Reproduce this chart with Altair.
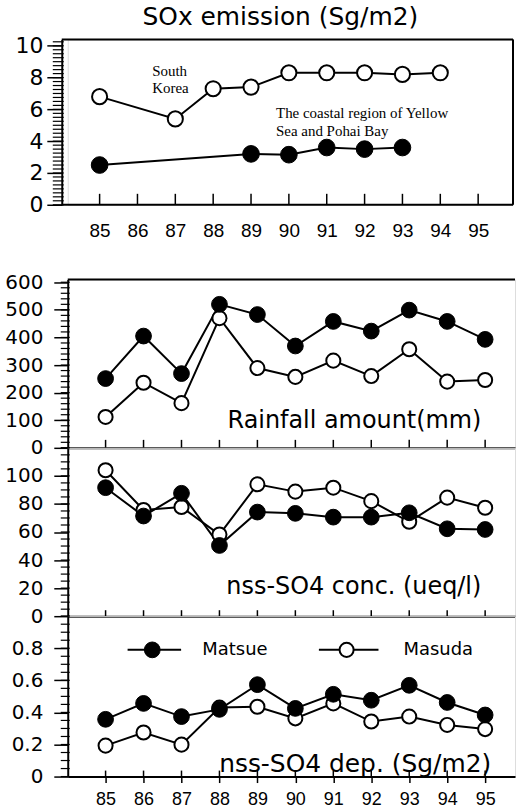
import altair as alt
import pandas as pd

# ---------------- data ----------------
years = [85, 86, 87, 88, 89, 90, 91, 92, 93, 94, 95]

# SOx emission (S g/m2)
korea_years = [85, 87, 88, 89, 90, 91, 92, 93, 94]
korea_sox = [6.8, 5.4, 7.3, 7.4, 8.3, 8.3, 8.3, 8.2, 8.3]
coast_years = [85, 89, 90, 91, 92, 93]
coast_sox = [2.5, 3.2, 3.15, 3.6, 3.5, 3.6]

# Matsue (filled) / Masuda (open)
rain_matsue = [251, 405, 269, 520, 483, 369, 458, 423, 499, 458, 393]
rain_masuda = [112, 236, 162, 470, 289, 257, 316, 260, 357, 240, 246]
conc_matsue = [91.6, 71.4, 87.6, 50.4, 74.2, 73.3, 70.6, 70.6, 73.7, 62.3, 61.8]
conc_masuda = [104, 75.7, 77.8, 58.2, 94, 88.8, 91.6, 82, 67.3, 84.5, 77.3]
dep_matsue = [0.357, 0.456, 0.374, 0.419, 0.573, 0.425, 0.513, 0.476, 0.569, 0.462, 0.384]
dep_masuda = [0.193, 0.275, 0.199, 0.43, 0.435, 0.363, 0.456, 0.343, 0.374, 0.322, 0.296]

stations = ["Matsue", "Masuda"]
korea_label = ["South", "Korea"]
coast_label = ["The coastal region of Yellow", "Sea and Pohai Bay"]
title_text = "SOx emission (Sg/m2)"
panel_labels = ["Rainfall amount(mm)", "nss-SO4 conc. (ueq/l)", "nss-SO4 dep. (Sg/m2)"]

# axis tick positions: labelled majors and unlabelled minor ticks
sox_major = [0, 2, 4, 6, 8, 10]
sox_minor = [i * 0.25 for i in range(0, 42)]
rain_major = [0, 100, 200, 300, 400, 500, 600]
rain_minor = [i * 20 for i in range(0, 31)]
conc_major = [0, 20, 40, 60, 80, 100]
conc_minor = [i * 5 for i in range(0, 25)]
dep_major = [0, 0.2, 0.4, 0.6, 0.8]
dep_minor = [round(i * 0.05, 2) for i in range(0, 21)]

# ---------------- styling ----------------
FONT = "DejaVu Sans"
XFONT = "Liberation Sans"
SERIF = "Liberation Serif"
W_TOP, H_TOP = 447, 166
W_BOT = 449
H_RAIN, H_CONC, H_DEP = 169, 169, 161

dummy = pd.DataFrame({"k": [0]})
year_df = pd.DataFrame({"year": years})


def yaxis(values, size, tmaj, pad, offset=0):
    return alt.Axis(
        values=values, title=None, offset=offset, grid=False,
        labelExpr="'' + datum.value",
        labelFont=FONT, labelFontSize=size, labelColor="black",
        labelPadding=pad, labelOverlap=False, labelFlush=False,
        tickSize=tmaj, tickColor="black", tickWidth=1.5,
        domainColor="black", domainWidth=2,
    )


class Panel:
    """Holds the shared scales/axes of one panel so every layer uses the same ones."""

    def __init__(self, xdom, ydom, xax, yax, W, H, axis_x=0):
        self.xs = alt.Scale(domain=xdom, nice=False, zero=False)
        self.ys = alt.Scale(domain=ydom, nice=False, zero=False)
        self.xax, self.yax, self.W, self.H = xax, yax, W, H
        self.axis_x = axis_x

    def X(self):
        return alt.X("year:Q", scale=self.xs, axis=self.xax)

    def Y(self):
        return alt.Y("v:Q", scale=self.ys, axis=self.yax)

    def XD(self, v):
        return alt.XDatum(v, scale=self.xs, axis=self.xax)

    def YD(self, v):
        return alt.YDatum(v, scale=self.ys, axis=self.yax)

    def series(self, xs, ys, filled, size):
        df = pd.DataFrame({"year": xs, "v": ys})
        line = alt.Chart(df).mark_line(color="black", strokeWidth=2).encode(
            x=self.X(), y=self.Y())
        pts = alt.Chart(df).mark_point(
            shape="circle", filled=True, fill="black" if filled else "white",
            stroke="black", strokeWidth=1 if filled else 2, size=size, opacity=1,
        ).encode(x=self.X(), y=self.Y())
        return line, pts

    def label(self, text, x, y, size, font=FONT, align="left"):
        return alt.Chart(dummy).mark_text(
            text=text, font=font, fontSize=size, align=align, baseline="middle",
            color="black").encode(x=self.XD(x), y=self.YD(y))

    def inner_ticks(self, length):
        return alt.Chart(year_df).mark_rule(color="black", strokeWidth=1.5).encode(
            x=self.X(), y=alt.value(self.H), y2=alt.value(self.H - length))

    def minor_ticks(self, values, length):
        df = pd.DataFrame({"v": values})
        return alt.Chart(df).mark_rule(color="black", strokeWidth=1.2).encode(
            y=self.Y(), x=alt.value(self.axis_x - length), x2=alt.value(self.axis_x + 2))

    def key(self, x1, x2, xc, y, filled, size):
        r = alt.Chart(dummy).mark_rule(color="black", strokeWidth=2).encode(
            x=self.XD(x1), x2=alt.X2Datum(x2), y=self.YD(y))
        p = alt.Chart(dummy).mark_point(
            shape="circle", filled=True, fill="black" if filled else "white",
            stroke="black", strokeWidth=1 if filled else 2, size=size, opacity=1,
        ).encode(x=self.XD(xc), y=self.YD(y))
        return r, p


def frame_rule(**enc):
    return alt.Chart(dummy).mark_rule(color="black", strokeWidth=2).encode(**enc)


# ---------------- top panel: SOx emission ----------------
top_xax = alt.Axis(values=years, format="d", title=None, ticks=False, tickSize=0,
                   domain=False, grid=False, labelFont=XFONT, labelFontSize=19,
                   labelPadding=17, labelFlush=False, labelColor="black")
top_yax = yaxis(sox_major, 22, 15, 4, offset=6)
P = Panel([84.158, 95.921], [0, 10.4], top_xax, top_yax, W_TOP, H_TOP, axis_x=-6)

k_line, k_pts = P.series(korea_years, korea_sox, False, 230)
c_line, c_pts = P.series(coast_years, coast_sox, True, 280)

title_mark = alt.Chart(dummy).mark_text(
    text=title_text, font=FONT, fontSize=25, align="center", baseline="middle",
    color="black").encode(x=alt.value(W_TOP / 2 - 10), y=alt.value(-22))

top = alt.layer(
    frame_rule(x=alt.value(-6), x2=alt.value(W_TOP), y=alt.value(0)),
    frame_rule(x=alt.value(-6), x2=alt.value(W_TOP), y=alt.value(H_TOP)),
    frame_rule(x=alt.value(W_TOP), y=alt.value(0), y2=alt.value(H_TOP)),
    P.minor_ticks(sox_minor, 9),
    P.inner_ticks(11),
    k_line, c_line, k_pts, c_pts,
    P.label(korea_label[0], 86.39, 8.4, 15, SERIF),
    P.label(korea_label[1], 86.39, 7.33, 15, SERIF),
    P.label(coast_label[0], 89.66, 5.76, 15, SERIF),
    P.label(coast_label[1], 89.66, 4.64, 15, SERIF),
    title_mark,
).properties(width=W_TOP, height=H_TOP)


# ---------------- bottom panels ----------------
XB = [84.003, 95.787]
plain_xax = alt.Axis(values=years, title=None, labels=False, ticks=False, tickSize=0,
                     domain=True, domainColor="black", domainWidth=2, grid=False)
dep_xax = alt.Axis(values=years, format="d", title=None, tickSize=6, tickWidth=1.5,
                   tickColor="black", domainColor="black", domainWidth=2, grid=False,
                   labelFont=XFONT, labelFontSize=18, labelPadding=8,
                   labelFlush=False, labelColor="black")


def bottom_panel(Pn, m_vals, o_vals, minor, tick_len, extras):
    o_line, o_pts = Pn.series(years, o_vals, False, 200)
    m_line, m_pts = Pn.series(years, m_vals, True, 250)
    return alt.layer(
        Pn.minor_ticks(minor, 7), Pn.inner_ticks(tick_len),
        o_line, m_line, o_pts, m_pts, *extras
    ).properties(width=Pn.W, height=Pn.H)


PR = Panel(XB, [0, 610], plain_xax, yaxis(rain_major, 20, 14, 11), W_BOT, H_RAIN)
rain = bottom_panel(
    PR, rain_matsue, rain_masuda, rain_minor, 8,
    [frame_rule(x=alt.value(0), x2=alt.value(W_BOT), y=alt.value(0)),
     PR.label(panel_labels[0], 94.9, 98, 24, align="right")],
)

PC = Panel(XB, [0, 120], plain_xax, yaxis(conc_major, 20, 14, 11), W_BOT, H_CONC)
conc = bottom_panel(
    PC, conc_matsue, conc_masuda, conc_minor, 6,
    [PC.label(panel_labels[1], 94.9, 21, 24, align="right")],
)

PD = Panel(XB, [0, 1.0], dep_xax, yaxis(dep_major, 20, 14, 11), W_BOT, H_DEP)
key_m = PD.key(85.58, 86.99, 86.23, 0.79, True, 250)
key_o = PD.key(90.62, 92.19, 91.35, 0.79, False, 200)
dep = bottom_panel(
    PD, dep_matsue, dep_masuda, dep_minor, 6,
    [
        PD.label(panel_labels[2], 95.16, 0.08, 25, align="right"),
        key_m[0], key_m[1], PD.label(stations[0], 87.55, 0.79, 18),
        key_o[0], key_o[1], PD.label(stations[1], 92.85, 0.79, 18),
    ],
)

bottom = alt.vconcat(rain, conc, dep, spacing=0, bounds="flush")

chart = alt.vconcat(top, bottom, spacing=75, bounds="flush").properties(
    padding={"left": 4, "top": 3, "right": 0, "bottom": 0}
).configure_view(strokeWidth=0).configure(background="white")

chart.save("out.html", embed_options={"renderer": "svg", "actions": False})
